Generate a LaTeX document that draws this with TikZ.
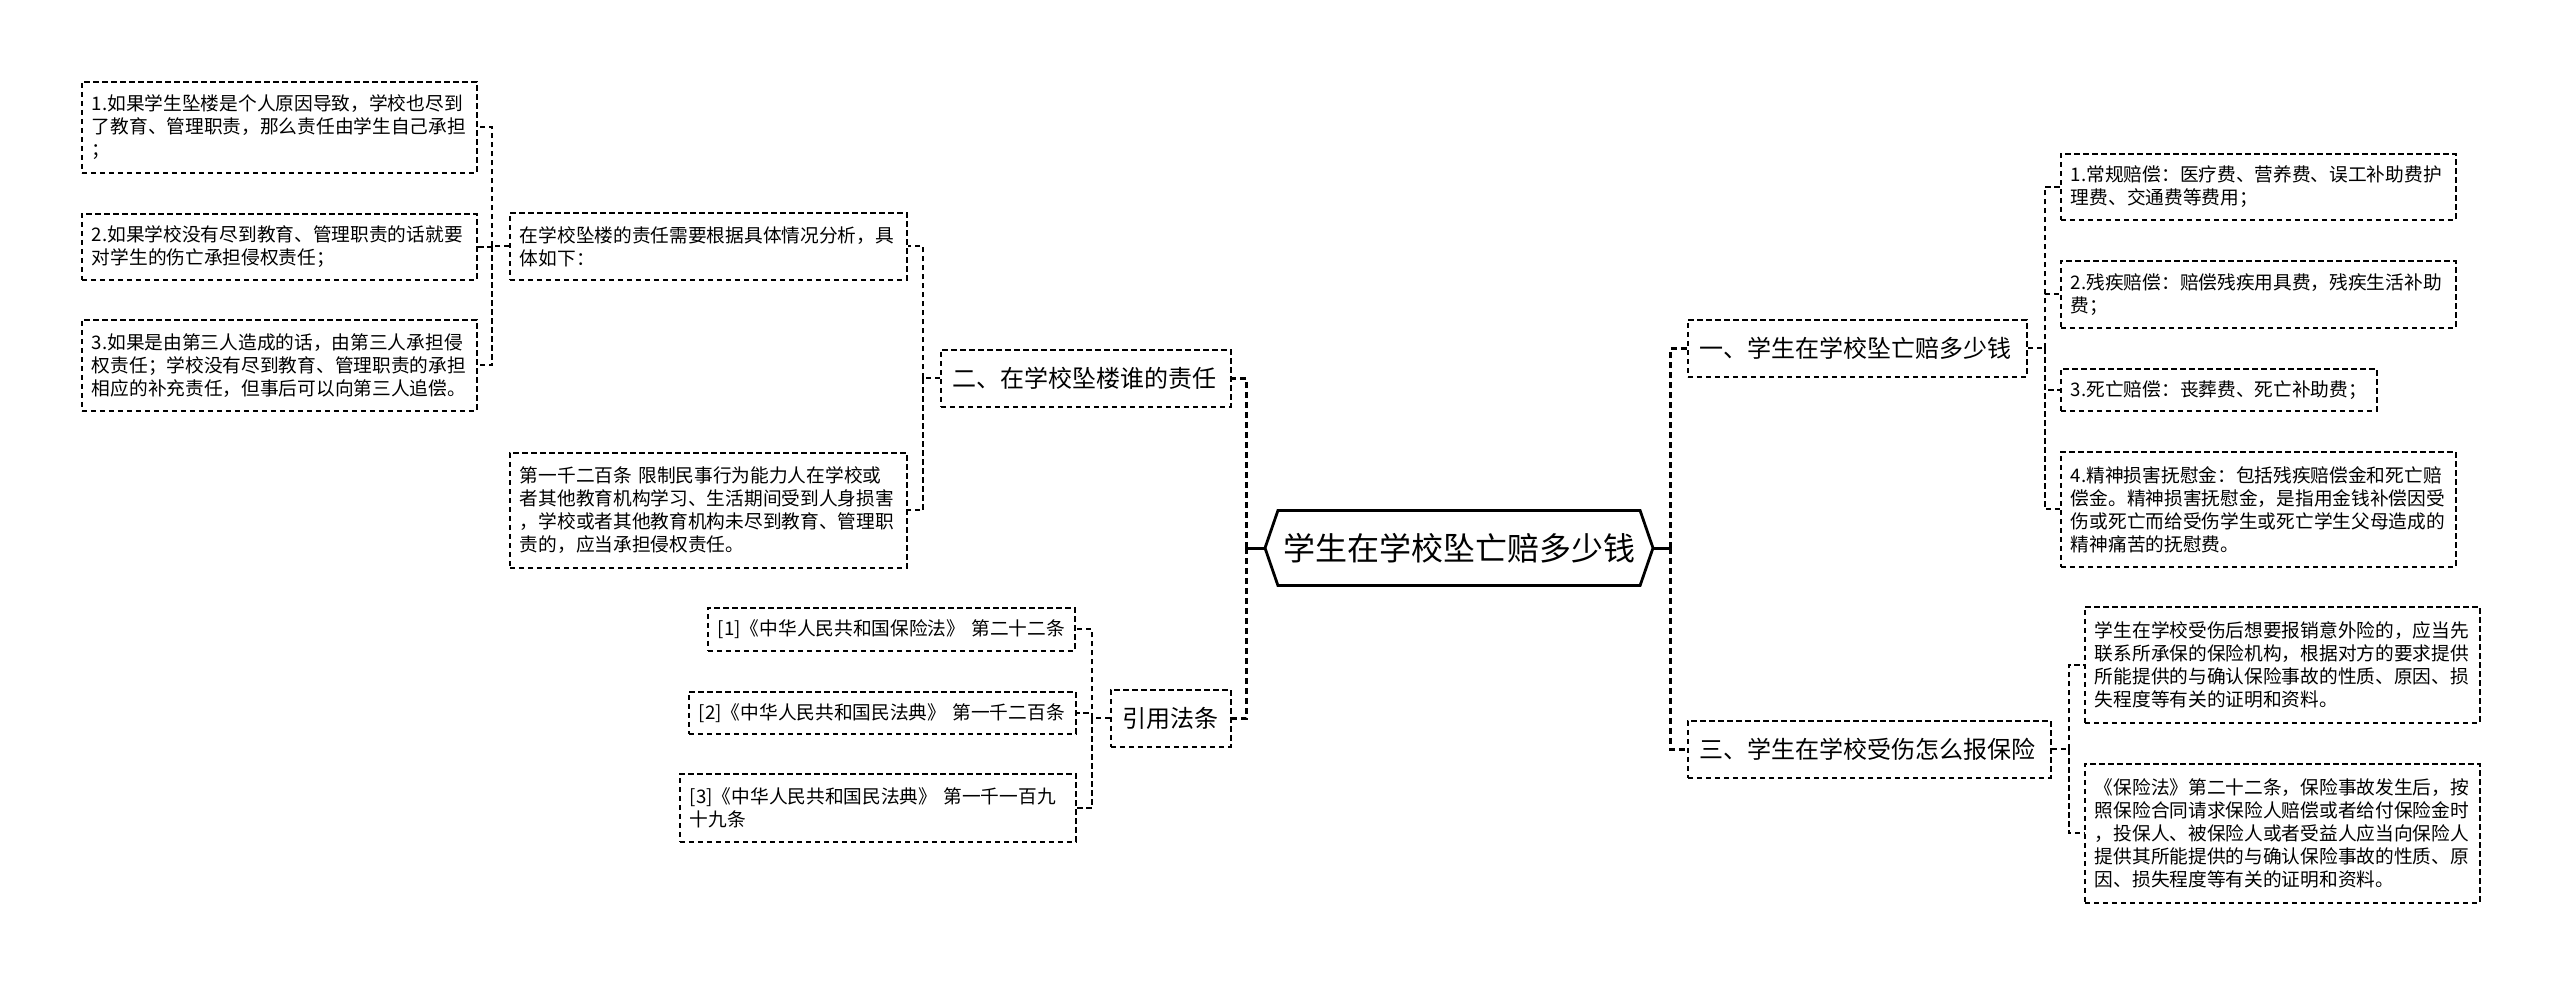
\documentclass[tikz,border=0pt]{standalone}
\usepackage{fontspec}
\setmainfont{Noto Sans CJK SC}
\usetikzlibrary{shapes.symbols}

\begin{document}
\begin{tikzpicture}[x=1pt, y=-1pt,
  leaf/.style={draw, dash pattern=on 5.5pt off 3.5pt, line width=1.8pt, anchor=north west,
    align=left, inner xsep=10pt, inner ysep=0pt, font=\fontsize{18.7}{23}\selectfont},
  topic/.style={draw, dash pattern=on 5.5pt off 3.5pt, line width=1.8pt, anchor=north west,
    align=left, inner xsep=12pt, inner ysep=0pt, minimum height=57pt, font=\fontsize{24}{28}\selectfont},
  link/.style={dash pattern=on 5.5pt off 3.5pt, line width=2pt},
  trunk/.style={dash pattern=on 6pt off 4pt, line width=3.2pt},
  hubline/.style={line width=3pt}]
\fill[white] (0,0) rectangle (2560,983);
\useasboundingbox (0,0) rectangle (2560,983);

\node[draw, signal, signal to=west and east, signal pointer angle=142, line width=2.8pt,
  minimum width=388pt, minimum height=75pt, inner sep=0pt,
  font=\fontsize{32}{36}\selectfont] (hub) at (1459,548) {学生在学校坠亡赔多少钱};

% left side
\node[topic, text width=266pt] (t2) at (940,349) {二、在学校坠楼谁的责任};
\node[leaf, text width=377pt, minimum height=67pt] (b1) at (509,212)
  {在学校坠楼的责任需要根据具体情况分析，具\\体如下：};
\node[leaf, text width=377pt, minimum height=115pt] (b2) at (509,452)
  {第一千二百条~限制民事行为能力人在学校或\\者其他教育机构学习、生活期间受到人身损害\\，学校或者其他教育机构未尽到教育、管理职\\责的，应当承担侵权责任。};
\node[leaf, text width=375pt, minimum height=91pt] (a1) at (81,81)
  {1.如果学生坠楼是个人原因导致，学校也尽到\\了教育、管理职责，那么责任由学生自己承担\\；};
\node[leaf, text width=375pt, minimum height=66pt] (a2) at (81,213)
  {2.如果学校没有尽到教育、管理职责的话就要\\对学生的伤亡承担侵权责任；};
\node[leaf, text width=375pt, minimum height=91pt] (a3) at (81,319)
  {3.如果是由第三人造成的话，由第三人承担侵\\权责任；学校没有尽到教育、管理职责的承担\\相应的补充责任，但事后可以向第三人追偿。};
\node[topic, text width=96pt] (t4) at (1110,689) {引用法条};
\node[leaf, text width=347pt, minimum height=43pt] (c1) at (707,607)
  {[1]《中华人民共和国保险法》~第二十二条};
\node[leaf, text width=367pt, minimum height=42pt] (c2) at (688,691)
  {[2]《中华人民共和国民法典》~第一千二百条};
\node[leaf, text width=376pt, minimum height=68pt] (c3) at (679,773)
  {[3]《中华人民共和国民法典》~第一千一百九\\十九条};

% right side
\node[topic, text width=315pt] (t1) at (1687,319) {一、学生在学校坠亡赔多少钱};
\node[leaf, text width=375pt, minimum height=66pt] (r1) at (2060,153)
  {1.常规赔偿：医疗费、营养费、误工补助费护\\理费、交通费等费用；};
\node[leaf, text width=375pt, minimum height=67pt] (r2) at (2060,260)
  {2.残疾赔偿：赔偿残疾用具费，残疾生活补助\\费；};
\node[leaf, text width=296pt, minimum height=42pt] (r3) at (2060,368)
  {3.死亡赔偿：丧葬费、死亡补助费；};
\node[leaf, text width=375pt, minimum height=115pt] (r4) at (2060,451)
  {4.精神损害抚慰金：包括残疾赔偿金和死亡赔\\偿金。精神损害抚慰金，是指用金钱补偿因受\\伤或死亡而给受伤学生或死亡学生父母造成的\\精神痛苦的抚慰费。};
\node[topic, text width=339pt] (t3) at (1687,720) {三、学生在学校受伤怎么报保险};
\node[leaf, text width=375pt, minimum height=116pt] (r5) at (2084,606)
  {学生在学校受伤后想要报销意外险的，应当先\\联系所承保的保险机构，根据对方的要求提供\\所能提供的与确认保险事故的性质、原因、损\\失程度等有关的证明和资料。};
\node[leaf, text width=375pt, minimum height=139pt] (r6) at (2084,763)
  {《保险法》第二十二条，保险事故发生后，按\\照保险合同请求保险人赔偿或者给付保险金时\\，投保人、被保险人或者受益人应当向保险人\\提供其所能提供的与确认保险事故的性质、原\\因、损失程度等有关的证明和资料。};

\coordinate (jl) at ([xshift=-17pt]hub.west);
\coordinate (jr) at ([xshift=16pt]hub.east);
\coordinate (j2) at ([xshift=-17pt]t2.west);
\coordinate (jb) at ([xshift=-17pt]b1.west);
\coordinate (j4) at ([xshift=-18pt]t4.west);
\coordinate (j1) at ([xshift=17pt]t1.east);
\coordinate (j3) at ([xshift=17pt]t3.east);

\draw[hubline] (hub.west) -- (jl);
\draw[hubline] (hub.east) -- (jr);
\foreach \n in {t2,t4} \draw[trunk] (jl) |- (\n.east);
\foreach \n in {t1,t3} \draw[trunk] (jr) |- (\n.west);
\draw[link] (t2.west) -- (j2);
\foreach \n in {b1,b2} \draw[link] (j2) |- (\n.east);
\draw[link] (b1.west) -- (jb);
\foreach \n in {a1,a2,a3} \draw[link] (jb) |- (\n.east);
\draw[link] (t4.west) -- (j4);
\foreach \n in {c1,c2,c3} \draw[link] (j4) |- (\n.east);
\draw[link] (t1.east) -- (j1);
\foreach \n in {r1,r2,r3,r4} \draw[link] (j1) |- (\n.west);
\draw[link] (t3.east) -- (j3);
\foreach \n in {r5,r6} \draw[link] (j3) |- (\n.west);
\end{tikzpicture}
\end{document}
